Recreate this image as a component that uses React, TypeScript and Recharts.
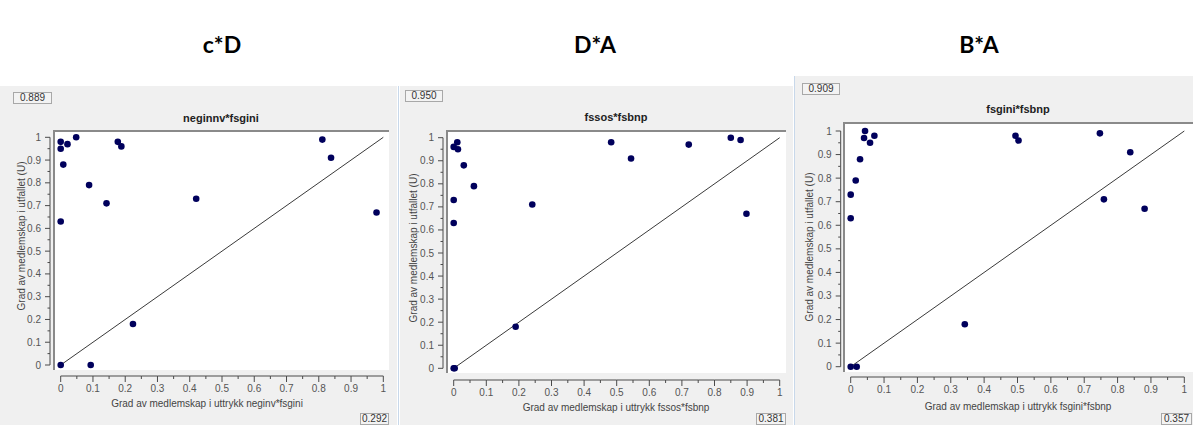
import React from 'react';
import { ScatterChart, Scatter, XAxis, YAxis, ReferenceLine } from 'recharts';

// headings and texts
const headers = ['c*D', 'D*A', 'B*A'];
const titles = ['neginnv*fsgini', 'fssos*fsbnp', 'fsgini*fsbnp'];
const xTitles = [
  'Grad av medlemskap i uttrykk neginv*fsgini',
  'Grad av medlemskap i uttrykk fssos*fsbnp',
  'Grad av medlemskap i uttrykk fsgini*fsbnp',
];
const yTitle = 'Grad av medlemskap i utfallet (U)';
const topValues = ['0.889', '0.950', '0.909'];
const bottomValues = ['0.292', '0.381', '0.357'];

// major ticks every 0.1, minor ticks between
const axisTicks = [0, 0.05, 0.1, 0.15, 0.2, 0.25, 0.3, 0.35, 0.4, 0.45, 0.5, 0.55, 0.6, 0.65, 0.7, 0.75, 0.8, 0.85, 0.9, 0.95, 1];
const tickLabels = ['0', '0.1', '0.2', '0.3', '0.4', '0.5', '0.6', '0.7', '0.8', '0.9', '1'];

// c*D
const cdX = [0, 0, 0.008, 0.021, 0.048, 0, 0, 0.088, 0.093, 0.142, 0.177, 0.188, 0.224, 0.42, 0.811, 0.838, 0.979];
const cdY = [0.98, 0.95, 0.88, 0.97, 1.0, 0.63, 0, 0.79, 0, 0.71, 0.98, 0.96, 0.18, 0.73, 0.99, 0.91, 0.67];

// D*A
const daX = [0, 0.011, 0.013, 0.031, 0.062, 0, 0, 0, 0.003, 0.19, 0.241, 0.483, 0.544, 0.721, 0.85, 0.88, 0.898];
const daY = [0.96, 0.98, 0.95, 0.88, 0.79, 0.73, 0.63, 0, 0, 0.18, 0.71, 0.98, 0.91, 0.97, 1.0, 0.99, 0.67];

// B*A
const baX = [0, 0.018, 0, 0, 0.015, 0.028, 0.04, 0.043, 0.058, 0.071, 0.342, 0.494, 0.503, 0.747, 0.759, 0.838, 0.881];
const baY = [0, 0, 0.63, 0.73, 0.79, 0.88, 0.97, 1.0, 0.95, 0.98, 0.18, 0.98, 0.96, 0.99, 0.71, 0.91, 0.67];

const toPoints = (xs: number[], ys: number[]) => xs.map((x, i) => ({ x, y: ys[i] }));
const series = [toPoints(cdX, cdY), toPoints(daX, daY), toPoints(baX, baY)];

// page layout of each window (pixels)
const layouts = [
  {
    gray: { l: 0, t: 86, r: 397, b: 425 },
    white: { l: 53, t: 130, r: 389, b: 370 },
    x0: 60.7, x1: 383.3, y0: 365, y1: 137.3,
    yAxisX: 50, xAxisY: 376,
    head: { x: 222, y: 44 },
    title: { x: 221, y: 118 },
    xTitle: { x: 207, y: 403 },
    yTitle: { x: 21, y: 236 },
    topBox: { l: 13, t: 92, w: 39, h: 12 },
    botBox: { l: 360, t: 413, w: 29, h: 12 },
  },
  {
    gray: { l: 400, t: 86, r: 793, b: 425 },
    white: { l: 446, t: 130, r: 786, b: 373 },
    x0: 453.7, x1: 779.7, y0: 368.3, y1: 137.7,
    yAxisX: 443, xAxisY: 380,
    head: { x: 595, y: 44 },
    title: { x: 616, y: 117 },
    xTitle: { x: 616, y: 407 },
    yTitle: { x: 413, y: 248 },
    topBox: { l: 405, t: 90, w: 38, h: 12 },
    botBox: { l: 756, t: 413, w: 30, h: 12 },
  },
  {
    gray: { l: 795, t: 76, r: 1193, b: 425 },
    white: { l: 843, t: 122, r: 1193, b: 372 },
    x0: 850.7, x1: 1184.3, y0: 366.7, y1: 131,
    yAxisX: 840.7, xAxisY: 377,
    head: { x: 979, y: 44 },
    title: { x: 1018, y: 109 },
    xTitle: { x: 1018, y: 406 },
    yTitle: { x: 809, y: 247 },
    topBox: { l: 802, t: 83, w: 38, h: 12 },
    botBox: { l: 1161, t: 413, w: 31, h: 12 },
  },
];

const uiFont = '"Liberation Sans", Arial, sans-serif';
const axisColor = '#4a4a4a';

const labelFor = (v: number) => tickLabels[Math.round(v * 10)];

const XTick = (props: any) => {
  const { x, payload, axisPos, gap } = props;
  const idx = Math.round(payload.value * 20);
  const major = idx % 2 === 0;
  return (
    <g>
      {idx < 20 && <line x1={x} y1={axisPos} x2={x + gap} y2={axisPos} stroke={axisColor} />}
      <line x1={x} y1={axisPos} x2={x} y2={axisPos + (major ? 6 : 3)} stroke={axisColor} />
      {major && (
        <text x={x} y={axisPos + 16} textAnchor="middle" fontSize={10} fontFamily={uiFont} fill="#555">
          {labelFor(payload.value)}
        </text>
      )}
    </g>
  );
};

const YTick = (props: any) => {
  const { y, payload, axisPos, gap } = props;
  const idx = Math.round(payload.value * 20);
  const major = idx % 2 === 0;
  return (
    <g>
      {idx > 0 && <line x1={axisPos} y1={y} x2={axisPos} y2={y + gap} stroke={axisColor} />}
      <line x1={axisPos - (major ? 5 : 2.5)} y1={y} x2={axisPos} y2={y} stroke={axisColor} />
      {major && (
        <text x={axisPos - 9} y={y + 3.5} textAnchor="end" fontSize={10} fontFamily={uiFont} fill="#555">
          {labelFor(payload.value)}
        </text>
      )}
    </g>
  );
};

const Dot = (props: any) => <circle cx={props.cx} cy={props.cy} r={3.3} fill="#00005c" />;

const ValueBox: React.FC<{ box: { l: number; t: number; w: number; h: number }; text: string }> = ({ box, text }) => (
  <div
    style={{
      position: 'absolute', left: box.l, top: box.t, width: box.w, height: box.h,
      border: '1px solid #a8a8a8', background: '#f3f3f3', boxSizing: 'border-box',
      fontFamily: uiFont, fontSize: 10, lineHeight: `${box.h - 2}px`, color: '#333', textAlign: 'center',
    }}
  >
    {text}
  </div>
);

const Panel: React.FC<{ i: number }> = ({ i }) => {
  const L = layouts[i];
  const w = L.gray.r - L.gray.l;
  const h = L.gray.b - L.gray.t;
  const pl = L.white.l - L.gray.l;
  const pt = L.white.t - L.gray.t;
  const pr = L.white.r - L.gray.l;
  const pb = L.white.b - L.gray.t;
  const gapX = (L.x1 - L.x0) / 20;
  const gapY = (L.y0 - L.y1) / 20;

  return (
    <>
      <div style={{ position: 'absolute', left: L.gray.l, top: L.gray.t, width: w, height: h, background: '#f0f0f0' }}>
        <div
          style={{
            position: 'absolute', left: pl, top: pt, width: pr - pl, height: pb - pt, background: '#fff',
            borderTop: '2px solid #8a8a8a', borderLeft: '2px solid #8a8a8a', boxSizing: 'border-box',
          }}
        />
        <div style={{ position: 'absolute', left: 0, top: 0 }}>
          <ScatterChart width={w} height={h} margin={{ top: pt, right: w - pr, bottom: 0, left: 0 }}>
            <XAxis
              type="number" dataKey="x" domain={[0, 1]} ticks={axisTicks} interval={0}
              height={h - pb} padding={{ left: L.x0 - L.white.l, right: L.white.r - L.x1 }}
              axisLine={false} tickLine={false}
              tick={<XTick axisPos={L.xAxisY - L.gray.t} gap={gapX} />}
            />
            <YAxis
              type="number" dataKey="y" domain={[0, 1]} ticks={axisTicks} interval={0}
              width={pl} padding={{ top: L.y1 - L.white.t, bottom: L.white.b - L.y0 }}
              axisLine={false} tickLine={false}
              tick={<YTick axisPos={L.yAxisX - L.gray.l} gap={gapY} />}
            />
            <ReferenceLine segment={[{ x: 0, y: 0 }, { x: 1, y: 1 }]} stroke="#3a3a3a" strokeWidth={1} ifOverflow="visible" />
            <Scatter data={series[i]} shape={<Dot />} isAnimationActive={false} />
          </ScatterChart>
        </div>
      </div>
      <div
        style={{
          position: 'absolute', left: L.head.x, top: L.head.y, transform: 'translate(-50%, -50%)',
          fontFamily: 'Lato, "Open Sans", sans-serif', fontWeight: 700, fontSize: 23, color: '#000', whiteSpace: 'nowrap',
        }}
      >
        {headers[i]}
      </div>
      <div
        style={{
          position: 'absolute', left: L.title.x, top: L.title.y, transform: 'translate(-50%, -50%)',
          fontFamily: uiFont, fontWeight: 700, fontSize: 11, color: '#222', whiteSpace: 'nowrap',
        }}
      >
        {titles[i]}
      </div>
      <div
        style={{
          position: 'absolute', left: L.xTitle.x, top: L.xTitle.y, transform: 'translate(-50%, -50%)',
          fontFamily: uiFont, fontSize: 10, color: '#444', whiteSpace: 'nowrap',
        }}
      >
        {xTitles[i]}
      </div>
      <div
        style={{
          position: 'absolute', left: L.yTitle.x, top: L.yTitle.y, transform: 'translate(-50%, -50%) rotate(-90deg)',
          fontFamily: uiFont, fontSize: 10, color: '#444', whiteSpace: 'nowrap',
        }}
      >
        {yTitle}
      </div>
      <ValueBox box={L.topBox} text={topValues[i]} />
      <ValueBox box={L.botBox} text={bottomValues[i]} />
    </>
  );
};

export default function App() {
  return (
    <div style={{ position: 'absolute', left: 0, top: 0, width: 1193, height: 425, background: '#fff', overflow: 'hidden' }}>
      <Panel i={0} />
      <Panel i={1} />
      <Panel i={2} />
      <div style={{ position: 'absolute', left: 398, top: 86, width: 1, height: 339, background: '#c8d8ea' }} />
      <div style={{ position: 'absolute', left: 794, top: 76, width: 1, height: 349, background: '#c8d8ea' }} />
    </div>
  );
}
